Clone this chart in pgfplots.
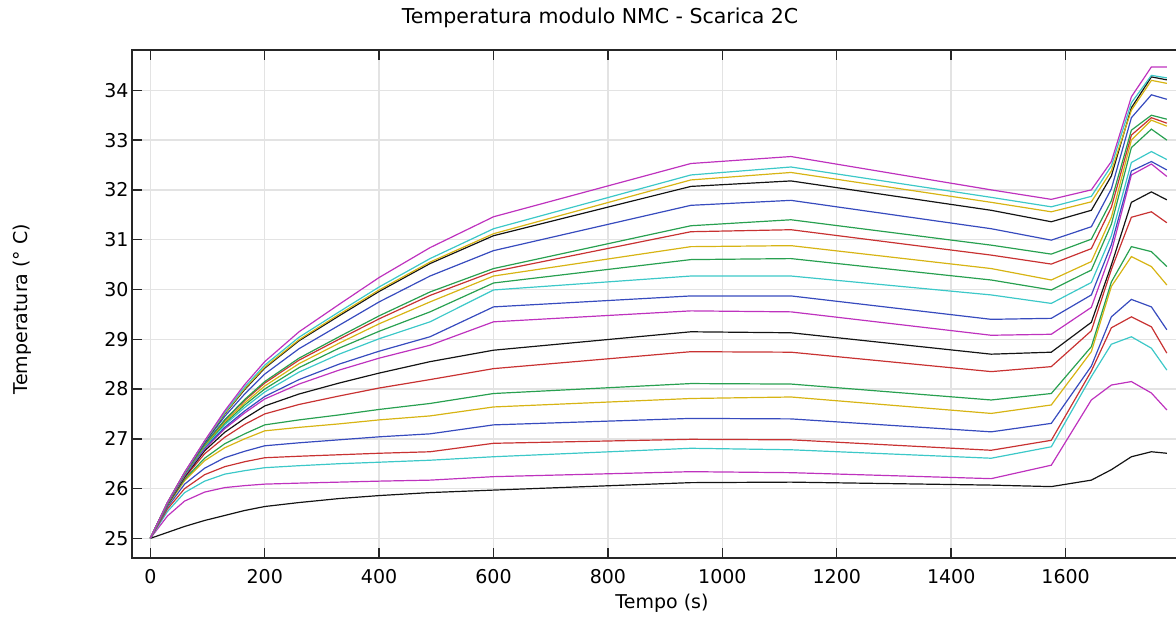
\documentclass[border=0pt]{standalone}
\usepackage{fontspec}
\setmainfont{DejaVu Sans}
\usepackage{pgfplots}
\usepackage{pgfplotstable}
\pgfplotsset{compat=1.18}
\newcommand{\fs}{\fontsize{19}{22}\selectfont}
\newcommand{\fst}{\fontsize{20.5}{24}\selectfont}
\definecolor{cblk}{RGB}{20,20,20}
\definecolor{cmag}{RGB}{190,50,190}
\definecolor{ccya}{RGB}{60,200,200}
\definecolor{cred}{RGB}{200,50,50}
\definecolor{cblu}{RGB}{55,75,190}
\definecolor{cyel}{RGB}{215,180,20}
\definecolor{cgrn}{RGB}{40,160,80}
\pgfplotstableread{
t l1 l2 l3 l4 l5 l6 l7 l8 l9 l10 l11 l12 l13 l14 l15 l16 l17 l18 l19 l20 l21
0 25 25 25 25 25 25 25 25 25 25 25 25 25 25 25 25 25 25 25 25 25
30 25.12 25.45 25.54 25.59 25.63 25.66 25.67 25.68 25.68 25.69 25.69 25.70 25.70 25.70 25.71 25.71 25.71 25.72 25.72 25.72 25.72
60 25.24 25.75 25.92 26.00 26.09 26.16 26.19 26.22 26.24 26.26 26.27 26.28 26.29 26.30 26.30 26.31 26.31 26.32 26.32 26.32 26.33
95 25.36 25.93 26.15 26.28 26.41 26.56 26.61 26.70 26.76 26.80 26.82 26.84 26.86 26.87 26.89 26.89 26.92 26.94 26.95 26.95 26.96
130 25.46 26.02 26.29 26.44 26.62 26.82 26.90 27.03 27.13 27.20 27.23 27.28 27.31 27.34 27.37 27.38 27.45 27.50 27.51 27.53 27.56
165 25.56 26.06 26.36 26.54 26.75 27.00 27.10 27.29 27.41 27.52 27.56 27.63 27.68 27.72 27.77 27.79 27.90 27.99 28.01 28.04 28.09
200 25.64 26.09 26.42 26.62 26.86 27.16 27.28 27.50 27.66 27.80 27.85 27.94 28.00 28.06 28.12 28.15 28.30 28.42 28.44 28.48 28.55
260 25.72 26.11 26.46 26.65 26.92 27.23 27.38 27.69 27.90 28.10 28.19 28.34 28.43 28.51 28.58 28.62 28.81 28.97 28.99 29.04 29.15
330 25.80 26.13 26.50 26.68 26.98 27.30 27.48 27.86 28.12 28.38 28.50 28.70 28.82 28.92 29.00 29.05 29.28 29.47 29.50 29.55 29.70
400 25.86 26.15 26.53 26.71 27.04 27.38 27.59 28.02 28.32 28.62 28.76 29.01 29.16 29.31 29.41 29.47 29.75 29.96 29.99 30.05 30.24
489 25.92 26.17 26.57 26.74 27.10 27.46 27.71 28.19 28.55 28.88 29.05 29.35 29.55 29.75 29.88 29.95 30.27 30.52 30.55 30.62 30.84
600 25.97 26.24 26.64 26.91 27.28 27.64 27.91 28.41 28.78 29.35 29.65 29.99 30.13 30.27 30.36 30.42 30.78 31.08 31.12 31.22 31.46
945 26.12 26.34 26.81 26.99 27.41 27.81 28.11 28.75 29.15 29.57 29.87 30.27 30.60 30.86 31.16 31.28 31.69 32.07 32.20 32.30 32.53
1120 26.13 26.32 26.78 26.98 27.40 27.84 28.10 28.74 29.13 29.55 29.87 30.27 30.62 30.88 31.20 31.40 31.79 32.18 32.35 32.46 32.67
1470 26.07 26.20 26.61 26.77 27.14 27.51 27.78 28.35 28.70 29.08 29.40 29.89 30.19 30.42 30.69 30.89 31.22 31.59 31.75 31.85 32.00
1575 26.04 26.47 26.84 26.97 27.31 27.68 27.91 28.45 28.74 29.10 29.42 29.72 29.99 30.19 30.51 30.71 30.99 31.36 31.56 31.66 31.81
1645 26.17 27.78 28.25 28.36 28.46 28.75 28.85 29.17 29.34 29.64 29.89 30.14 30.39 30.56 30.82 31.01 31.26 31.59 31.76 31.87 32.00
1680 26.38 28.08 28.90 29.23 29.45 30.06 30.15 30.40 30.49 30.76 30.90 31.08 31.31 31.45 31.65 31.78 32.02 32.28 32.38 32.48 32.57
1715 26.64 28.15 29.05 29.45 29.80 30.66 30.86 31.45 31.75 32.30 32.38 32.55 32.85 33.00 33.10 33.20 33.45 33.65 33.60 33.75 33.87
1750 26.74 27.92 28.82 29.25 29.65 30.46 30.76 31.56 31.96 32.52 32.57 32.77 33.22 33.40 33.45 33.50 33.91 34.27 34.20 34.30 34.47
1777 26.71 27.58 28.38 28.72 29.19 30.09 30.46 31.34 31.80 32.27 32.40 32.61 33.00 33.28 33.34 33.42 33.82 34.21 34.14 34.25 34.47
}\data
\begin{document}
\begin{tikzpicture}
\begin{axis}[
  scale only axis, width=1048pt, height=508pt,
  xmin=-32, xmax=1800, ymin=24.606, ymax=34.81,
  xtick={0,200,...,1600}, ytick={25,...,34},
  xtick pos=both, ytick pos=left, tick align=inside,
  major tick length=10pt,
  grid=major, major grid style={draw=black!11, line width=1.4pt},
  axis line style={draw=black!85, line width=1.4pt},
  every tick/.style={black!85, line width=1.4pt},
  tick label style={font=\fs},
  /pgf/number format/assume math mode=true,
  /pgf/number format/1000 sep={},
  scaled x ticks=false,
  xticklabel style={yshift=-8pt},
  title={Temperatura modulo NMC - Scarica 2C},
  title style={font=\fst, at={(axis description cs:0.4466,1.051)}, anchor=center},
  xlabel={Tempo (s)},
  xlabel style={font=\fs, at={(axis description cs:0.5057,-0.0886)}, anchor=center},
  ylabel={Temperatura (° C)},
  ylabel style={font=\fs, at={(axis description cs:-0.105,0.49)}, anchor=center},
  every axis plot/.append style={no markers, line width=1.2pt},
]
\addplot[cblk] table[x=t,y=l1] {\data};
\addplot[cmag] table[x=t,y=l2] {\data};
\addplot[ccya] table[x=t,y=l3] {\data};
\addplot[cred] table[x=t,y=l4] {\data};
\addplot[cblu] table[x=t,y=l5] {\data};
\addplot[cyel] table[x=t,y=l6] {\data};
\addplot[cgrn] table[x=t,y=l7] {\data};
\addplot[cred] table[x=t,y=l8] {\data};
\addplot[cblk] table[x=t,y=l9] {\data};
\addplot[cmag] table[x=t,y=l10] {\data};
\addplot[cblu] table[x=t,y=l11] {\data};
\addplot[ccya] table[x=t,y=l12] {\data};
\addplot[cgrn] table[x=t,y=l13] {\data};
\addplot[cyel] table[x=t,y=l14] {\data};
\addplot[cred] table[x=t,y=l15] {\data};
\addplot[cgrn] table[x=t,y=l16] {\data};
\addplot[cblu] table[x=t,y=l17] {\data};
\addplot[cblk] table[x=t,y=l18] {\data};
\addplot[cyel] table[x=t,y=l19] {\data};
\addplot[ccya] table[x=t,y=l20] {\data};
\addplot[cmag] table[x=t,y=l21] {\data};
\coordinate (bl) at (rel axis cs:0,0);
\end{axis}
\pgfresetboundingbox
\path ([shift={(-132pt,-61pt)}]bl) rectangle ([shift={(1044pt,558pt)}]bl);
\end{tikzpicture}
\end{document}
